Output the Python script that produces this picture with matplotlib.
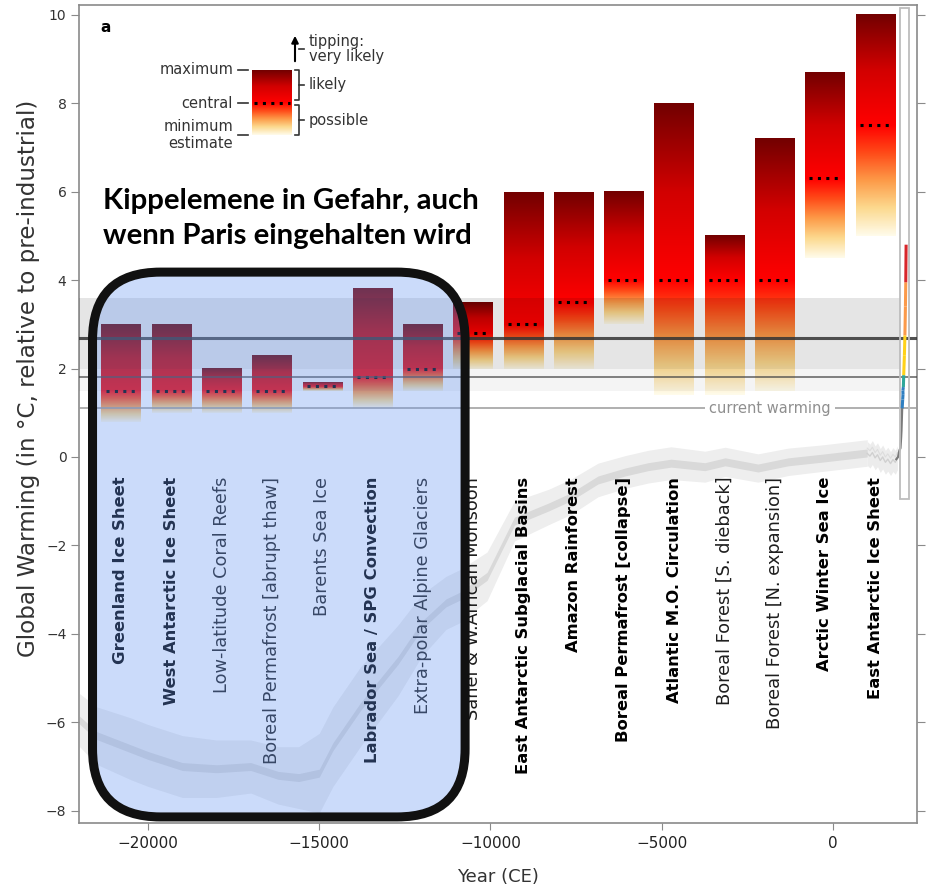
import matplotlib.pyplot as plt
import numpy as np
from matplotlib.colors import LinearSegmentedColormap
from matplotlib.patches import FancyBboxPatch, Rectangle
from matplotlib.transforms import IdentityTransform

# Tipping elements with minimum / central / maximum threshold (°C)
names = ["Greenland Ice Sheet", "West Antarctic Ice Sheet", "Low-latitude Coral Reefs",
         "Boreal Permafrost [abrupt thaw]", "Barents Sea Ice", "Labrador Sea / SPG Convection",
         "Extra-polar Alpine Glaciers", "Sahel & W.African Monsoon",
         "East Antarctic Subglacial Basins", "Amazon Rainforest", "Boreal Permafrost [collapse]",
         "Atlantic M.O. Circulation", "Boreal Forest [S. dieback]", "Boreal Forest [N. expansion]",
         "Arctic Winter Sea Ice", "East Antarctic Ice Sheet"]
t_min = [0.8, 1.0, 1.0, 1.0, 1.5, 1.1, 1.5, 2.0, 2.0, 2.0, 3.0, 1.4, 1.4, 1.5, 4.5, 5.0]
t_central = [1.5, 1.5, 1.5, 1.5, 1.6, 1.8, 2.0, 2.8, 3.0, 3.5, 4.0, 4.0, 4.0, 4.0, 6.3, 7.5]
t_max = [3.0, 3.0, 2.0, 2.3, 1.7, 3.8, 3.0, 3.5, 6.0, 6.0, 6.0, 8.0, 5.0, 7.2, 8.7, 10.0]
core = [1, 1, 0, 0, 0, 1, 0, 0, 1, 1, 1, 1, 0, 0, 1, 1]
n_paris = 7  # elements at risk even within the Paris range

# Global temperature since the Last Glacial Maximum
paleo_year = [-22000, -21500, -20500, -20000, -19000, -18000, -17000, -16200, -15600, -15000,
              -14600, -13800, -12700, -12000, -11300, -10900, -10100, -9300, -8300, -7650,
              -6860, -6070, -5400, -4730, -3740, -3150, -2190, -1310, -350, 1000]
paleo_temp = [-5.95, -6.3, -6.6, -6.75, -7.0, -7.05, -7.0, -7.2, -7.25, -7.15,
              -6.55, -5.65, -4.6, -3.8, -3.3, -3.15, -2.7, -1.45, -1.13, -0.9,
              -0.52, -0.34, -0.22, -0.14, -0.22, -0.11, -0.25, -0.11, -0.03, 0.09]
paleo_spread = [0.6, 0.65, 0.7, 0.7, 0.7, 0.65, 0.6, 0.65, 0.7, 0.9,
                0.9, 0.9, 0.8, 0.7, 0.6, 0.6, 0.55, 0.45, 0.4, 0.4,
                0.38, 0.37, 0.37, 0.37, 0.35, 0.33, 0.32, 0.31, 0.3, 0.3]

# Common era reconstruction, instrumental record and projection
ce_year = [1000, 1080, 1150, 1230, 1300, 1380, 1450, 1530, 1600, 1680, 1750, 1820, 1880]
ce_temp = [0.08, 0.02, 0.1, -0.02, 0.05, -0.08, 0.0, -0.12, -0.05, -0.15, -0.06, -0.12, -0.02]
hist_year = [1850, 1900, 1940, 1970, 1990, 2000, 2010, 2020]
hist_temp = [-0.05, 0.0, 0.15, 0.2, 0.45, 0.6, 0.85, 1.1]
proj_year = [2020, 2035, 2045, 2040, 2055, 2065, 2085, 2100, 2115, 2125, 2135]
proj_temp = [1.1, 1.3, 1.42, 1.5, 1.58, 1.85, 2.3, 2.75, 3.4, 3.95, 4.8]
proj_levels = [1.58, 1.85, 2.75, 3.95]
proj_colours = ["#2f7fc1", "#2ea79a", "#ffd21a", "#fb9a4a", "#d8262b"]

paris_range = (1.5, 2.0)
policy_range = (2.0, 3.6)
policy_central = 2.7
paris_line = 1.8
current_warming = 1.1

lower_cmap = LinearSegmentedColormap.from_list(
    "lower", ["#fffbea", "#fcd98e", "#fd9a48", "#ff4a18", "#ff0000"])
upper_cmap = LinearSegmentedColormap.from_list(
    "upper", ["#ff0000", "#d20000", "#730000"])


def bar_colours(lo, mid, hi, n=200):
    y = np.linspace(lo, hi, n)
    cols = np.empty((n, 4))
    below = y <= mid
    cols[below] = lower_cmap((y[below] - lo) / (mid - lo))
    cols[~below] = upper_cmap((y[~below] - mid) / (hi - mid))
    return cols[:, None, :]


fig = plt.figure(figsize=(9.49, 8.91), dpi=100)
W, H = 949, 891
ax = fig.add_axes([79 / W, 68 / H, 838 / W, 818 / H])
ax.set_xlim(-22015, 2453)
ax.set_ylim(-8.277, 10.22)

# paleo curve
py = np.array(paleo_year)
pt = np.array(paleo_temp)
ps = np.array(paleo_spread)
ax.fill_between(py, pt - ps, pt + ps, color="#eeeeee", lw=0, zorder=1)
ax.fill_between(py, pt - 0.09, pt + 0.09, color="#d9d9d9", lw=0, zorder=1.1)
ce_t = np.array(ce_temp)
ax.fill_between(ce_year, ce_t - 0.27, ce_t + 0.27, color="#ececec", lw=0, zorder=1)
ax.plot(ce_year, ce_temp, color="#d0d0d0", lw=1, zorder=1.1)
ax.plot(ce_year, ce_t + 0.12, color="#dddddd", lw=0.8, zorder=1.1)
ax.plot(hist_year, hist_temp, color="#7a7a7a", lw=1.6, zorder=4)

# projected warming coloured by level
idx = np.searchsorted(proj_levels, proj_temp[:-1], side="right")
for i in range(len(proj_year) - 1):
    ax.plot(proj_year[i:i + 2], proj_temp[i:i + 2], color=proj_colours[idx[i]],
            lw=2.2, solid_capstyle="butt", zorder=4.5)

# tipping threshold bars
centres = np.linspace(-20790, 1230, len(names))
width = 1140
for x, lo, mid, hi in zip(centres, t_min, t_central, t_max):
    ax.imshow(bar_colours(lo, mid, hi), extent=(x - width / 2, x + width / 2, lo, hi),
              origin="lower", aspect="auto", interpolation="bilinear", zorder=2)
    ax.plot([x - width / 2 + 120, x + width / 2 - 120], [mid, mid], color="k",
            lw=2.2, ls=(0, (1, 1.75)), zorder=2.2)

# warming ranges
band_end = 1960
ax.fill_between([-22015, band_end], *policy_range, color="k", alpha=0.1, lw=0, zorder=3)
ax.fill_between([-22015, band_end], *paris_range, color="k", alpha=0.045, lw=0, zorder=3)
ax.axhline(policy_central, color="#333333", lw=2.2, alpha=0.85, zorder=3.5)
ax.axhline(paris_line, color="#444444", lw=1.1, alpha=0.85, zorder=3.5)
ax.axhline(current_warming, color="#9a9a9a", lw=1.1, zorder=3.5)
ax.text(-1840, current_warming, "current warming", color="#8f8f8f", fontsize=10.5,
        ha="center", va="center", zorder=3.6,
        bbox=dict(facecolor="white", edgecolor="none", pad=3))

# frame around recent / projected period
ax.add_patch(Rectangle((band_end, -0.95), 250, 11.1, fill=False, ec="#bdbdbd",
                       lw=1.3, zorder=4))

for x, name, c in zip(centres, names, core):
    ax.text(x, -0.45, name, rotation=90, ha="center", va="top",
            fontsize=11.8 if c else 12.8, fontweight="bold" if c else "normal",
            color="k" if c else "#1e1e1e", zorder=5)

# highlight box over the elements inside the Paris range
x0, y0 = ax.transData.transform((centres[0] - 830, -8.14))
x1, y1 = ax.transData.transform((centres[n_paris - 1] + 1240, 4.18))
style = "round,pad=0,rounding_size=68"
ax.add_patch(FancyBboxPatch((x0, y0), x1 - x0, y1 - y0, boxstyle=style,
                            transform=IdentityTransform(), fc="#6998f3", ec="none",
                            alpha=0.34, zorder=10, clip_on=False))
ax.add_patch(FancyBboxPatch((x0, y0), x1 - x0, y1 - y0, boxstyle=style,
                            transform=IdentityTransform(), fc="none", ec="#111111",
                            lw=6.5, zorder=11, clip_on=False))
ax.text(0.0286, 0.739, "Kippelemene in Gefahr, auch\nwenn Paris eingehalten wird",
        transform=ax.transAxes, family="Lato", fontweight="bold", fontsize=21.2,
        ha="left", va="center", linespacing=1.4, zorder=12)

ax.text(0.025, 0.972, "a", transform=ax.transAxes, fontsize=11, fontweight="bold",
        ha="left", va="center")

# axes styling
ax.set_yticks(np.arange(-8, 11, 2))
ax.set_xticks([-20000, -15000, -10000, -5000, 0])
for s in ax.spines.values():
    s.set_color("#8a8a8a")
    s.set_linewidth(1.2)
ax.tick_params(axis="y", right=True, direction="out", length=6, color="#8a8a8a",
               labelsize=10, labelcolor="#333333", pad=3)
ax.tick_params(axis="x", direction="out", length=5, color="#8a8a8a",
               labelsize=11, labelcolor="#222222", pad=4)
ax.set_ylabel("Global Warming (in °C, relative to pre-industrial)", fontsize=16.6,
              color="#333333")
ax.yaxis.set_label_coords(-0.0465, 0.544)
ax.set_xlabel("Year (CE)", fontsize=13, color="#333333")
ax.xaxis.set_label_coords(0.5, -0.055)

# key for the threshold bars
key = fig.add_axes([140 / W, 1 - 160 / H, 280 / W, 140 / H])
key.set_xlim(140, 420)
key.set_ylim(160, 20)
key.axis("off")
key_lo, key_mid, key_hi = 135, 103, 70
key.imshow(bar_colours(0, 1, 2), extent=(252, 292, key_lo, key_hi), origin="lower",
           aspect="auto", interpolation="bilinear")
key.plot([254, 290], [key_mid, key_mid], color="k", lw=2.2, ls=(0, (1, 1.75)))
ink = "#333333"
for yv, lab in [(key_hi, "maximum"), (key_mid, "central"), (key_lo, "minimum\nestimate")]:
    key.plot([238, 248], [yv, yv], color=ink, lw=1.2)
    key.text(233, yv, lab, ha="right", va="center", fontsize=10.5, color=ink,
             linespacing=1.15)
for top, bot, lab in [(key_hi, key_mid - 3, "likely"), (key_mid + 2, key_lo, "possible")]:
    key.plot([295, 299, 299, 295], [top, top, bot, bot], color=ink, lw=1.2)
    key.plot([299, 304], [(top + bot) / 2] * 2, color=ink, lw=1.2)
    key.text(309, (top + bot) / 2, lab, ha="left", va="center", fontsize=10.5, color=ink)
key.annotate("", xy=(295, 33), xytext=(295, 64),
             arrowprops=dict(arrowstyle="-|>", color="k", lw=1.5, mutation_scale=10))
key.plot([299, 304], [49, 49], color=ink, lw=1.2)
key.text(309, 49, "tipping:\nvery likely", ha="left", va="center", fontsize=10.5,
         color=ink, linespacing=1.05)

fig.savefig("out.png", dpi=100)
